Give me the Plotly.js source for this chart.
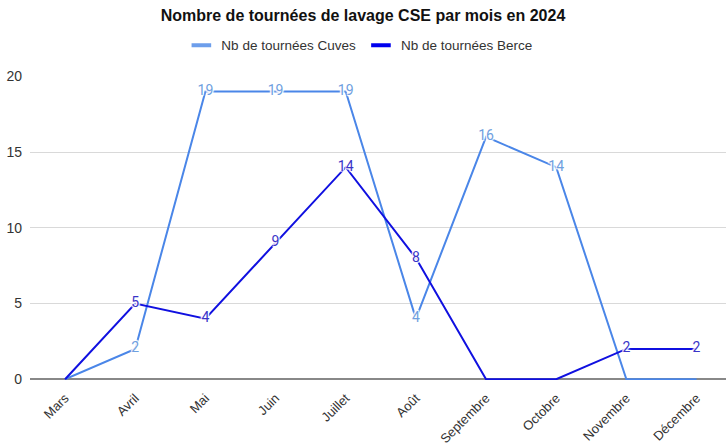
<!DOCTYPE html>
<html>
<head>
<meta charset="utf-8">
<script src="https://cdn.plot.ly/plotly-3.0.1.min.js"></script>
<style>html,body{margin:0;padding:0;background:#fff;}#chart{width:726px;height:445px;}</style>
</head>
<body>
<div id="chart"></div>
<script>
const months = ["Mars","Avril","Mai","Juin","Juillet","Août","Septembre","Octobre","Novembre","Décembre"];
const cuves = [0, 2, 19, 19, 19, 4, 16, 14, 0, 0];
const berce = [0, 5, 4, 9, 14, 8, 0, 0, 2, 2];
const seriesNames = ["Nb de tournées Cuves", "Nb de tournées Berce"];
const seriesColors = ["#4a86e8", "#1010e0"];
const yTicks = [0, 5, 10, 15, 20];

const halo = "1px 1px 1px #fff, -1px -1px 1px #fff, 1px -1px 1px #fff, -1px 1px 1px #fff, 0 0 3px #fff";
const lbl = arr => arr.map(v => v === 0 ? "" : String(v));

const traces = [
  {
    x: months, y: cuves, name: seriesNames[0], type: "scatter", mode: "lines+text",
    text: lbl(cuves), textposition: "middle center", cliponaxis: false, showlegend: false,
    line: {color: seriesColors[0], width: 2},
    textfont: {family: "Roboto, Arial, sans-serif", size: 14, color: "#6fa0e0", shadow: halo}
  },
  {
    x: months, y: berce, name: seriesNames[1], type: "scatter", mode: "lines+text",
    text: lbl(berce), textposition: "middle center", cliponaxis: false, showlegend: false,
    line: {color: seriesColors[1], width: 2},
    textfont: {family: "Roboto, Arial, sans-serif", size: 14, color: "#3a34c8", shadow: halo}
  },
  {
    x: [null], y: [null], name: seriesNames[0], type: "scatter", mode: "markers",
    marker: {symbol: "line-ew", size: 14, line: {width: 4, color: "#6d9eeb"}}
  },
  {
    x: [null], y: [null], name: seriesNames[1], type: "scatter", mode: "markers",
    marker: {symbol: "line-ew", size: 14, line: {width: 4, color: "#0000ee"}}
  }
];

const layout = {
  width: 726, height: 445,
  margin: {l: 30, r: 0, t: 76, b: 65},
  paper_bgcolor: "#fff", plot_bgcolor: "#fff",
  font: {family: "Liberation Sans, Arial, sans-serif", color: "#444"},
  title: {
    text: "<b>Nombre de tournées de lavage CSE par mois en 2024</b>",
    font: {family: "Liberation Sans, Arial, sans-serif", size: 16, color: "#111"},
    x: 0.5, xref: "container", xanchor: "center", y: 0.965, yref: "container", yanchor: "middle"
  },
  showlegend: true,
  legend: {
    orientation: "h", x: 0.495, xref: "container", xanchor: "center",
    y: 0.898, yref: "container", yanchor: "middle",
    font: {family: "Liberation Sans, Arial, sans-serif", size: 13.5, color: "#333"},
    tracegroupgap: 0
  },
  xaxis: {
    type: "category", range: [-0.5, 9.42], tickangle: -45,
    tickfont: {family: "Liberation Sans, Arial, sans-serif", size: 13, color: "#333"},
    showgrid: false, zeroline: false, showline: false, ticks: "", fixedrange: true,
    ticklabelstandoff: 7
  },
  yaxis: {
    range: [-0.05, 20.02], tickvals: yTicks, ticktext: yTicks.map(String),
    tickfont: {family: "Liberation Sans, Arial, sans-serif", size: 14, color: "#333"},
    gridcolor: "#d9d9d9", gridwidth: 1, zeroline: true, zerolinecolor: "#888", zerolinewidth: 1.5,
    showline: false, ticks: "", ticklabelstandoff: 7
  }
};

Plotly.newPlot("chart", traces, layout, {displayModeBar: false, staticPlot: true});
</script>
</body>
</html>
